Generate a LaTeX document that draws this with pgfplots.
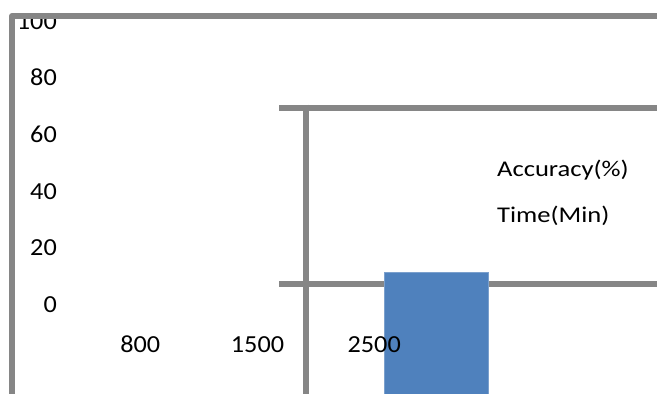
\documentclass[border=0pt]{standalone}
\usepackage{pgfplots}
\pgfplotsset{compat=1.18}
\usepackage{fontspec}
\setmainfont{Carlito}
\newfontfamily\tickfont[FakeStretch=1.07]{Carlito}
\newfontfamily\legfont[FakeStretch=1.18]{Carlito}
\definecolor{linegray}{RGB}{134,134,134}
\definecolor{barblue}{RGB}{79,129,189}
\tikzset{
  tk/.style={font=\tickfont\fontsize{24.5bp}{26bp}\selectfont, inner sep=0pt},
  lg/.style={font=\legfont\fontsize{22.5bp}{24bp}\selectfont, inner sep=0pt},
}
\begin{document}
\begin{tikzpicture}
\useasboundingbox (0,0) rectangle (657bp,394bp);
\begin{axis}[
  at={(0,0)}, anchor=south west,
  scale only axis, width=657bp, height=394bp,
  xmin=0, xmax=657, ymin=0, ymax=394, y dir=reverse,
  hide axis, clip=true,
]
% inner frame lines
\addplot[linegray, line width=6bp, line cap=butt] coordinates {(279,107.5) (657,107.5)};
\addplot[linegray, line width=6bp, line cap=butt] coordinates {(305.5,104.5) (305.5,394)};
\addplot[linegray, line width=6bp, line cap=butt] coordinates {(279,283.5) (657,283.5)};
% bar
\addplot[fill=barblue, draw=barblue!75!white, line width=0.8bp] coordinates {(384.5,394) (384.5,272.5) (488,272.5) (488,394)} -- cycle;
% y labels
\node[tk, anchor=base east] at (axis cs:57,29.3) {100};
\node[tk, anchor=base east] at (axis cs:57,85.9) {80};
\node[tk, anchor=base east] at (axis cs:57,142.5) {60};
\node[tk, anchor=base east] at (axis cs:57,199.1) {40};
\node[tk, anchor=base east] at (axis cs:57,255.7) {20};
\node[tk, anchor=base east] at (axis cs:57,312.3) {0};
% x labels
\node[tk, anchor=base] at (axis cs:140.3,352.8) {800};
\node[tk, anchor=base] at (axis cs:257.5,352.8) {1500};
\node[tk, anchor=base] at (axis cs:374.2,352.8) {2500};
% legend text
\node[lg, anchor=base west] at (axis cs:497,176.7) {Accuracy(\%)};
\node[lg, anchor=base west] at (axis cs:497,222.8) {Time(Min)};
% outer frame
\addplot[linegray, line width=6bp, line join=round] coordinates {(12,394) (12,16) (657,16)};
\end{axis}
\end{tikzpicture}
\end{document}
